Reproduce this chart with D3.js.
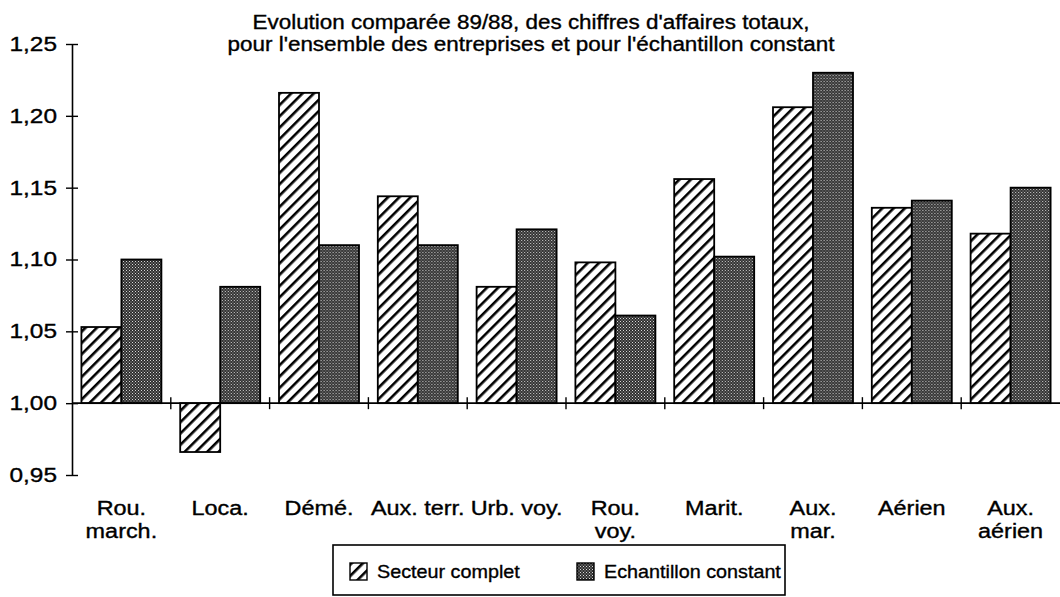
<!DOCTYPE html>
<html>
<head>
<meta charset="utf-8">
<script src="https://cdn.jsdelivr.net/npm/d3@7"></script>
<style>
body { margin: 0; background: #fff; }
text { font-family: "Liberation Sans", Arial, sans-serif; fill: #000; stroke: #000; stroke-width: 0.35px; }
</style>
</head>
<body>
<svg id="chart"></svg>
<script>
// categories, two lines where the label wraps
var categories = ["Rou. march.", "Loca.", "Démé.", "Aux. terr.", "Urb. voy.", "Rou. voy.", "Marit.", "Aux. mar.", "Aérien", "Aux. aérien"];
var labelLines = [["Rou.", "march."], ["Loca."], ["Démé."], ["Aux. terr."], ["Urb. voy."], ["Rou.", "voy."], ["Marit."], ["Aux.", "mar."], ["Aérien"], ["Aux.", "aérien"]];
var secteurComplet = [1.053, 0.966, 1.216, 1.144, 1.081, 1.098, 1.156, 1.206, 1.136, 1.118];
var echantillonConstant = [1.100, 1.081, 1.110, 1.110, 1.121, 1.061, 1.102, 1.230, 1.141, 1.150];
var series = ["Secteur complet", "Echantillon constant"];
var yTicks = [0.95, 1.00, 1.05, 1.10, 1.15, 1.20, 1.25];
var titleLines = ["Evolution comparée 89/88, des chiffres d'affaires totaux,", "pour l'ensemble des entreprises et pour l'échantillon constant"];

var W = 1060, H = 597;
var svg = d3.select("#chart").attr("width", W).attr("height", H);

var fr = d3.formatLocale({decimal: ",", thousands: " ", grouping: [3], currency: ["", ""]});
var fmt = fr.format(".2f");

// the scanned lettering is wider than the font, stretch it a bit
function stretch(sel, k) {
    sel.each(function() {
        var l = this.getComputedTextLength();
        d3.select(this).attr("textLength", l * k).attr("lengthAdjust", "spacingAndGlyphs");
    });
}

// patterns
var defs = svg.append("defs");
var hatch = defs.append("pattern")
    .attr("id", "hatch")
    .attr("patternUnits", "userSpaceOnUse")
    .attr("width", 8).attr("height", 8)
    .attr("patternTransform", "rotate(45)");
hatch.append("rect").attr("width", 8).attr("height", 8).attr("fill", "#fff");
hatch.append("rect").attr("x", 0).attr("width", 2.6).attr("height", 8).attr("fill", "#000");

var dots = defs.append("pattern")
    .attr("id", "dots")
    .attr("patternUnits", "userSpaceOnUse")
    .attr("width", 3).attr("height", 3);
dots.append("rect").attr("width", 3).attr("height", 3).attr("fill", "#2e2e2e");
dots.append("rect").attr("x", 0).attr("y", 0).attr("width", 1).attr("height", 1).attr("fill", "#d8d8d8");
dots.append("rect").attr("x", 1.5).attr("y", 1.5).attr("width", 1).attr("height", 1).attr("fill", "#c0c0c0");

var fills = {"Secteur complet": "url(#hatch)", "Echantillon constant": "url(#dots)"};

// scales
var x = d3.scaleBand().domain(categories).range([72, 1060]).padding(0);
var xs = d3.scaleBand().domain(series).range([0, x.bandwidth()]).paddingInner(0).paddingOuter(0.235);
var y = d3.scaleLinear().domain([0.95, 1.25]).range([475, 44]);

// title
var title = svg.append("g").selectAll("text")
    .data(titleLines)
    .enter().append("text")
    .attr("x", 531)
    .attr("y", function(d, i) { return 29 + i * 22; })
    .attr("text-anchor", "middle")
    .attr("font-size", "19.5px")
    .text(function(d) { return d; });
stretch(title, 1.15);

// y axis
var yAxis = svg.append("g")
    .attr("transform", "translate(" + x.range()[0] + ",0)")
    .call(d3.axisLeft(y).tickValues(yTicks).tickFormat(fmt).tickSizeInner(6).tickSizeOuter(0).tickPadding(9));
yAxis.select(".domain").attr("stroke-width", 1.6);
yAxis.selectAll(".tick line").attr("x1", 6).attr("stroke-width", 1.4);
yAxis.selectAll(".tick text").attr("font-size", "20px").attr("font-family", "Liberation Sans, Arial, sans-serif");
stretch(yAxis.selectAll(".tick text"), 1.22);

// bars
var rows = categories.map(function(c, i) {
    return {cat: c, vals: [
        {s: series[0], v: secteurComplet[i]},
        {s: series[1], v: echantillonConstant[i]}
    ]};
});

var groups = svg.append("g").selectAll("g")
    .data(rows)
    .enter().append("g")
    .attr("transform", function(d) { return "translate(" + x(d.cat) + ",0)"; });

groups.selectAll("rect")
    .data(function(d) { return d.vals; })
    .enter().append("rect")
    .attr("x", function(d) { return xs(d.s); })
    .attr("width", xs.bandwidth())
    .attr("y", function(d) { return Math.min(y(d.v), y(1)); })
    .attr("height", function(d) { return Math.abs(y(d.v) - y(1)); })
    .attr("fill", function(d) { return fills[d.s]; })
    .attr("stroke", "#000")
    .attr("stroke-width", 1.8);

// category axis on the 1,00 line
var base = y(1);
svg.append("line")
    .attr("x1", x.range()[0]).attr("x2", x.range()[1])
    .attr("y1", base).attr("y2", base)
    .attr("stroke", "#000").attr("stroke-width", 1.6);
svg.append("g").selectAll("line")
    .data(categories.slice(1))
    .enter().append("line")
    .attr("x1", function(d) { return x(d); })
    .attr("x2", function(d) { return x(d); })
    .attr("y1", base - 6).attr("y2", base + 6)
    .attr("stroke", "#000").attr("stroke-width", 1.4);

// category labels, one text per line
var labData = [];
labelLines.forEach(function(lines, i) {
    lines.forEach(function(t, j) { labData.push({cat: categories[i], t: t, row: j}); });
});
var labs = svg.append("g").selectAll("text")
    .data(labData)
    .enter().append("text")
    .attr("text-anchor", "middle")
    .attr("font-size", "19.5px")
    .attr("x", function(d) { return x(d.cat) + x.bandwidth() / 2; })
    .attr("y", function(d) { return 515 + d.row * 23; })
    .text(function(d) { return d.t; });
stretch(labs, 1.2);

// legend
var leg = svg.append("g").attr("transform", "translate(333,545)");
leg.append("rect")
    .attr("width", 452).attr("height", 50)
    .attr("fill", "#fff").attr("stroke", "#000").attr("stroke-width", 1.6);
var legX = [17, 244];
var li = leg.selectAll("g.item")
    .data(series)
    .enter().append("g")
    .attr("class", "item")
    .attr("transform", function(d, i) { return "translate(" + legX[i] + ",18)"; });
li.append("rect")
    .attr("width", 17).attr("height", 17)
    .attr("fill", function(d) { return fills[d]; })
    .attr("stroke", "#000").attr("stroke-width", 1.4);
var legText = li.append("text")
    .attr("x", 27).attr("y", 15)
    .attr("font-size", "19px")
    .text(function(d) { return d; });
stretch(legText, 1.04);
</script>
</body>
</html>
